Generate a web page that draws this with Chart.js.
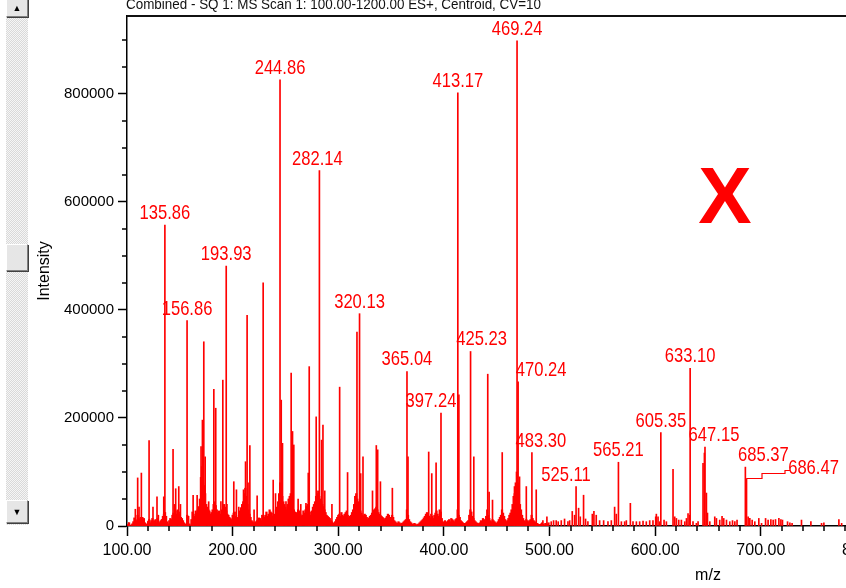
<!DOCTYPE html>
<html><head><meta charset="utf-8">
<script src="https://cdn.jsdelivr.net/npm/chart.js@4.4.1/dist/chart.umd.min.js"></script>
<style>
html,body{margin:0;padding:0;width:846px;height:588px;overflow:hidden;background:#fff;}
#wrap{position:relative;width:846px;height:588px;overflow:hidden;}
#c{position:absolute;left:0;top:0;}
.sb{position:absolute;left:6px;width:22px;box-sizing:border-box;}
#track{top:0;height:525px;background:repeating-conic-gradient(#d9d9d9 0 25%,#f6f6f6 0 50%) 0 0/2px 2px;}
.btn{background:#e6e6e6;border-top:1px solid #fff;border-left:1px solid #fff;border-right:1px solid #808080;border-bottom:1px solid #808080;box-shadow:1px 1px 0 #404040;font:9px Arial,sans-serif;color:#000;text-align:center;}
#up{top:-3px;height:20px;line-height:20px;}
#thumb{top:244px;height:27px;}
#down{top:500px;height:23px;line-height:22px;}
</style></head>
<body><div id="wrap">
<canvas id="c" width="1340" height="588"></canvas>
<div class="sb" id="track"></div>
<div class="sb btn" id="up">&#9650;</div>
<div class="sb btn" id="thumb"></div>
<div class="sb btn" id="down">&#9660;</div>
</div>
<script>
// ---- data ----
const headerText = 'Combined - SQ 1: MS Scan 1: 100.00-1200.00 ES+, Centroid, CV=10';
const xTitle = 'm/z';
const yTitle = 'Intensity';
const markText = 'X';

// axis ticks
const yTicks = [0,50000,100000,150000,200000,250000,300000,350000,400000,450000,500000,550000,600000,650000,700000,750000,800000,850000,900000];
const yLabelled = [0,200000,400000,600000,800000];
const xTicks = [100,120,140,160,180,200,220,240,260,280,300,320,340,360,380,400,420,440,460,480,500,520,540,560,580,600,620,640,660,680,700,720,740,760,780,800,820,840,860,880,900,920,940,960,980,1000,1020,1040,1060,1080,1100,1120,1140,1160,1180,1200];
const xLabelled = [100,200,300,400,500,600,700,800,900,1000,1100,1200];

// resolved peaks (m/z, intensity)
const peakMz = [101.6,107.9,110.1,111.4,113.6,114.9,119.9,120.9,124.6,128.4,129.7,133.0,134.8,135.86,
 143.6,144.9,146.1,149.0,150.6,156.86,162.6,166.4,170.1,171.4,172.7,174.0,177.3,182.2,184.0,188.9,190.7,
 193.93,194.6,201.1,203.6,205.8,210.3,212.2,213.7,214.6,216.3,220.3,223.2,228.9,238.4,240.6,244.86,246.0,
 247.2,250.5,255.4,256.7,257.9,262.0,264.5,269.4,271.6,272.5,279.1,282.14,284.2,285.5,287.2,294.0,301.3,
 308.8,317.7,320.13,321.2,323.4,332.4,336.0,337.3,339.9,351.2,365.04,366.0,385.6,388.5,392.6,397.24,
 413.17,414.17,425.23,428.3,441.5,442.8,446.0,455.2,466.8,469.24,470.24,471.6,478.0,483.30,487.4,
 493.7,497.5,501.6,503.8,506.3,508.2,511.1,514.2,517.4,519.0,521.5,523.7,525.11,527.5,529.1,532.2,534.1,
 536.3,540.5,542.0,544.2,547.4,551.2,555.3,558.5,561.6,563.2,565.21,568.0,571.1,572.7,576.5,579.0,582.2,
 585.3,588.5,591.6,594.8,597.9,600.5,601.1,602.7,604.3,605.35,608.4,610.6,616.9,618.5,620.1,622.3,624.8,
 628.0,629.6,631.1,632.7,633.10,635.8,639.0,640.6,645.3,646.6,647.15,648.5,649.5,651.7,656.4,658.0,661.1,
 663.3,664.9,667.5,670.6,673.2,675.4,677.5,685.37,686.47,688.0,689.6,691.8,694.3,698.1,700.7,704.5,706.9,
 709.5,711.7,713.9,717.1,719.0,720.5,725.3,727.5,729.6,738.5,747.4,757.5,759.7,773.9,776.5];
const peakInt = [6000,31000,89000,35000,98000,16000,9000,158000,35000,54000,20000,12000,54000,557000,
 142000,40000,69000,73000,40000,380000,57000,57000,147000,196000,341000,128000,45000,253000,218000,45000,270000,
 481000,40000,82000,67000,35000,67000,119000,390000,80000,149000,30000,56000,450000,85000,60000,826000,233000,
 153000,45000,283000,175000,150000,50000,40000,42000,98000,295000,202000,658000,159000,187000,65000,40000,257000,
 99000,359000,393000,97000,128000,65000,149000,141000,82000,70000,286000,128000,137000,97000,117000,209000,
 802000,243000,323000,128000,281000,63000,48000,136000,73000,898000,267000,91000,73000,136000,67000,
 10000,17000,8000,10000,10000,8000,10000,13000,8000,10000,27000,20000,73000,33000,17000,57000,13000,
 8000,22000,27000,20000,10000,10000,8000,10000,35000,22000,118000,8000,8000,10000,42000,8000,8000,
 8000,9000,8000,10000,10000,17000,22000,17000,8000,173000,11000,8000,105000,17000,14000,11000,11000,
 8000,14000,23000,20000,292000,8000,5000,8000,116000,135000,146000,61000,24000,8000,17000,14000,11000,
 18000,14000,11000,8000,10000,8000,11000,109000,88000,17000,14000,11000,8000,14000,5000,14000,11000,
 12000,11000,12000,14000,12000,11000,8000,6000,5000,11000,8000,5000,6000,12000,5000];

// unresolved low-level signal, one reading per m/z unit from 100 (thousands of counts)
const noiseStartMz = 100;
const noiseK = [
 0,3,6,0,2,4,8,15,12,10, 20,14,12,16,10,8,14,6,4,3, 8,12,6,10,14,8,10,12,6,14,
 8,6,10,12,18,22,25,18,8,4, 10,14,12,20,24,18,28,22,30,26, 22,16,14,10,6,4,2,20,18,4,
 2,12,26,22,18,28,24,30,36,50, 90,110,80,75,60,40,35,30,28,22, 25,30,40,45,38,30,25,28,22,20,
 30,35,40,35,28,22,20,16,14,12, 20,24,26,18,16,14,20,28,34,40, 45,60,70,55,40,30,22,16,10,8,
 6,4,8,10,12,15,14,10,20,18, 16,20,26,18,22,30,26,24,18,20, 22,30,35,45,60,80,70,55,45,40,
 35,30,40,50,55,60,45,38,30,26, 22,25,30,28,22,18,20,28,24,30, 36,40,34,26,20,28,35,40,45,55,
 60,65,55,50,45,40,36,30,25,20, 18,16,14,10,8,6,5,8,12,16, 20,22,18,25,20,18,22,25,28,20,
 15,18,20,25,30,40,55,60,50,45, 35,28,24,20,18,22,20,16,12,15, 18,20,24,28,30,32,35,30,25,22,
 20,18,16,14,12,15,18,22,20,16, 14,20,16,10,8,6,5,8,6,4, 5,6,8,10,12,30,20,12,8,6,
 4,3,5,4,2,3,4,6,8,10, 12,15,18,22,25,20,18,15,22,18, 14,20,24,28,22,18,30,26,14,8,
 6,10,8,6,10,12,8,14,12,10, 8,12,14,30,20,16,10,8,6,5, 4,6,8,10,20,30,26,18,14,10,
 8,6,5,4,6,10,8,14,12,10, 18,30,20,14,10,8,12,10,8,6, 5,8,12,16,20,30,24,18,12,8,
 10,14,20,24,30,40,55,60,80,100, 80,60,40,30,20,14,10,8,12,10, 8,10,12,20,14,10,8,6,5,4,
 3,2,4,6,3,2,5,4,3,6];

// annotated peaks
const labelMz = [135.86,156.86,193.93,244.86,282.14,320.13,365.04,397.24,413.17,425.23,469.24,470.24,
 483.30,525.11,565.21,605.35,633.10,647.15,685.37,686.47];

// ---- styling ----
const RED = '#ff0000';
const SANS = '"Liberation Sans",Arial,sans-serif';
const LABEL_SQUEEZE = 0.79;
const labelShift = {'282.14':[-2,0],'425.23':[11,0],'470.24':[23,0],'397.24':[-10,0],'483.30':[9,0],
 '525.11':[-10,0],'647.15':[9,0],'685.37':[18,0],'686.47':[67,2]};
const leaderFor = '686.47';
const leaderPts = [[0,0],[15,0],[15,-5],[38,-5],[38,-8],[43,-8]];

const noiseData = noiseK.map((v,i)=>({x: noiseStartMz + i, y: v*1000}));
const peakData = peakMz.map((m,i)=>({x: m, y: peakInt[i]}));

function squeezedText(ctx, txt, x, y, sx){
  ctx.save(); ctx.translate(x, y); ctx.scale(sx, 1); ctx.fillText(txt, 0, 0); ctx.restore();
}

const decor = {
  id:'decor',
  afterDatasetsDraw(chart){
    const {ctx, chartArea:ca, scales:{x:xs, y:ys}} = chart;
    ctx.save();
    // frame top
    ctx.strokeStyle='#111'; ctx.lineWidth=2;
    ctx.beginPath(); ctx.moveTo(ca.left, ca.top); ctx.lineTo(ca.right, ca.top); ctx.stroke();
    // minor ticks
    ctx.lineWidth=1.5; ctx.strokeStyle='#000';
    xTicks.forEach(v=>{ if (!xLabelled.includes(v)){ const p=Math.round(xs.getPixelForValue(v));
      ctx.beginPath(); ctx.moveTo(p, ca.bottom); ctx.lineTo(p, ca.bottom+5); ctx.stroke(); }});
    yTicks.forEach(v=>{ if (!yLabelled.includes(v)){ const p=Math.round(ys.getPixelForValue(v));
      ctx.beginPath(); ctx.moveTo(ca.left, p); ctx.lineTo(ca.left-5, p); ctx.stroke(); }});
    // peak labels
    ctx.fillStyle=RED; ctx.font='21px '+SANS; ctx.textAlign='center'; ctx.textBaseline='alphabetic';
    labelMz.forEach(m=>{
      const i = peakMz.indexOf(m);
      const txt = m.toFixed(2);
      const px = xs.getPixelForValue(m), py = ys.getPixelForValue(peakInt[i]);
      const off = labelShift[txt] || [0,0];
      squeezedText(ctx, txt, px+off[0], py-6+off[1], LABEL_SQUEEZE);
      if (txt === leaderFor){
        ctx.strokeStyle=RED; ctx.lineWidth=1.2; ctx.beginPath();
        leaderPts.forEach((p,k)=>{ const X=Math.round(px)+p[0], Y=Math.round(py)+p[1]+0.5;
          if(k===0) ctx.moveTo(X,Y); else ctx.lineTo(X,Y); });
        ctx.stroke();
      }
    });
    // header text and mark
    ctx.fillStyle='#111'; ctx.textAlign='left'; ctx.font='15px '+SANS;
    const w = ctx.measureText(headerText).width;
    squeezedText(ctx, headerText, 126, 9, 415 / w);
    ctx.fillStyle=RED; ctx.textAlign='center'; ctx.font='bold 80px '+SANS;
    ctx.fillText(markText, 725, 223);
    ctx.restore();
  }
};

new Chart(document.getElementById('c'), {
  type:'bar',
  data:{datasets:[
    {data:noiseData, backgroundColor:RED, borderWidth:0, barThickness:1.6, grouped:false},
    {data:peakData, backgroundColor:RED, borderWidth:0, barThickness:1, grouped:false}
  ]},
  options:{
    responsive:false, animation:false, events:[],
    layout:{padding:{top:16,left:0,right:51,bottom:0}},
    plugins:{legend:{display:false}, tooltip:{enabled:false}},
    scales:{
      x:{type:'linear', min:100, max:1200, offset:false,
        afterFit(s){ s.height = 62; },
        afterBuildTicks(s){ s.ticks = xTicks.map(v=>({value:v})); },
        ticks:{autoSkip:false, maxRotation:0, padding:5, color:'#000',
          font:{family:SANS,size:16},
          callback:v=> xLabelled.includes(Math.round(v)) ? Math.round(v).toFixed(2) : ''},
        grid:{offset:false, drawOnChartArea:false, tickLength:10, tickWidth:1.5,
          tickColor:c=> (c.tick && xLabelled.includes(Math.round(c.tick.value))) ? '#000' : 'rgba(0,0,0,0)'},
        border:{display:true, color:'#000', width:1.5},
        title:{display:true, text:xTitle, color:'#000', font:{family:SANS,size:16}, padding:{top:0,bottom:3}}
      },
      y:{min:0, max:944000,
        afterFit(s){ s.width = 127; },
        afterBuildTicks(s){ s.ticks = yTicks.map(v=>({value:v})); },
        ticks:{autoSkip:false, padding:4, color:'#000',
          font:{family:SANS,size:15},
          callback:v=> yLabelled.includes(Math.round(v)) ? String(Math.round(v)) : ''},
        grid:{drawOnChartArea:false, tickLength:9, tickWidth:1.5,
          tickColor:c=> (c.tick && yLabelled.includes(Math.round(c.tick.value))) ? '#000' : 'rgba(0,0,0,0)'},
        border:{display:true, color:'#000', width:1.5},
        title:{display:true, text:yTitle, color:'#000', font:{family:SANS,size:16}, padding:{top:35,bottom:0}}
      }
    }
  },
  plugins:[decor]
});
</script>
</body></html>
